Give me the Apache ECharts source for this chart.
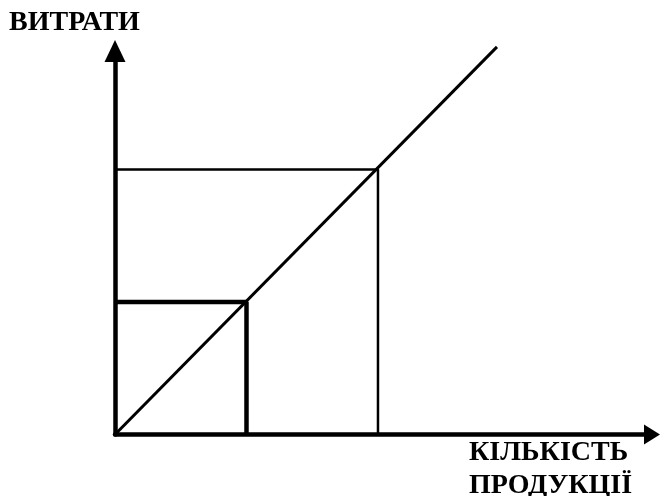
<!DOCTYPE html>
<html>
<head>
<meta charset="utf-8">
<script src="https://cdn.jsdelivr.net/npm/echarts@6/dist/echarts.min.js"></script>
<style>
  html, body { margin: 0; padding: 0; background: #fff; }
  #chart { width: 661px; height: 496px; }
</style>
</head>
<body>
<div id="chart"></div>
<script>
// осі: кількість (x) і витрати (y), в умовних одиницях
const xMax = 4.084
const yMax = 2.894

// два обсяги виробництва та відповідні витрати
const quantities = [1, 2]
const costs = [1, 2]

// лінія витрат від початку координат
const costLineX = [0, 2.905]
const costLineY = [0, 2.925]

const labelY = 'ВИТРАТИ'
const labelX = ['КІЛЬКІСТЬ', 'ПРОДУКЦІЇ']

const font = 'bold 28px "Liberation Serif", "Times New Roman", serif'

function rectData(q, c) {
  // горизонталь від осі y до точки, потім вниз до осі x
  return [[0, c], [q, c], [q, 0]]
}

const chart = echarts.init(document.getElementById('chart'))

chart.setOption({
  animation: false,
  grid: { left: 115, right: 9, top: 51, bottom: 61.5 },
  xAxis: {
    type: 'value',
    min: 0,
    max: xMax,
    axisLine: {
      show: true,
      symbol: ['none', 'triangle'],
      symbolSize: [20, 16],
      lineStyle: { color: '#000', width: 4.5 },
    },
    axisTick: { show: false },
    axisLabel: { show: false },
    splitLine: { show: false },
  },
  yAxis: {
    type: 'value',
    min: 0,
    max: yMax,
    axisLine: {
      show: true,
      symbol: ['none', 'triangle'],
      symbolSize: [21, 22],
      lineStyle: { color: '#000', width: 4.5 },
    },
    axisTick: { show: false },
    axisLabel: { show: false },
    splitLine: { show: false },
  },
  graphic: [
    {
      type: 'text',
      left: 9,
      top: 9,
      style: { text: labelY, font, fill: '#000' },
    },
    {
      type: 'text',
      left: 469,
      top: 437,
      style: { text: labelX.join('\n'), font, fill: '#000', lineHeight: 32.5 },
    },
  ],
  series: [
    {
      type: 'line',
      data: rectData(quantities[0], costs[0]),
      symbol: 'none',
      lineStyle: { color: '#000', width: 4.5 },
    },
    {
      type: 'line',
      data: rectData(quantities[1], costs[1]),
      symbol: 'none',
      lineStyle: { color: '#000', width: 2.5 },
    },
    {
      type: 'line',
      data: costLineX.map((x, i) => [x, costLineY[i]]),
      symbol: 'none',
      clip: false,
      lineStyle: { color: '#000', width: 3 },
    },
  ],
})
</script>
</body>
</html>
